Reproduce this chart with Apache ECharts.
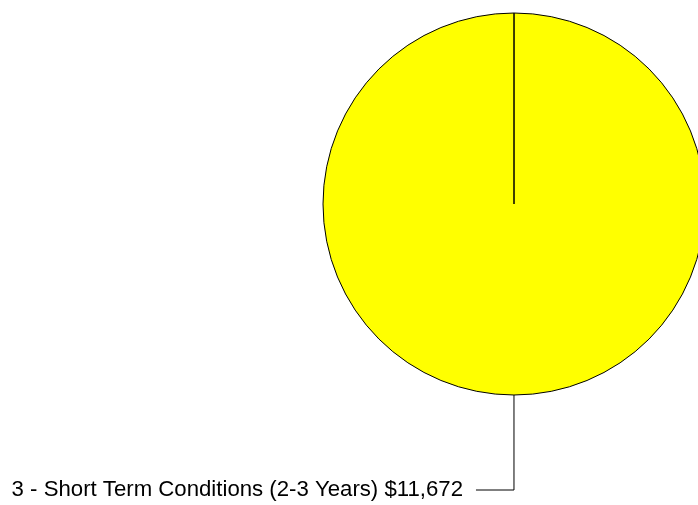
<!DOCTYPE html>
<html>
<head>
<meta charset="utf-8">
<script src="https://cdn.jsdelivr.net/npm/echarts@6/dist/echarts.min.js"></script>
<style>
  html, body { margin: 0; padding: 0; background: #fff; }
  #main { width: 698px; height: 505px; }
</style>
</head>
<body>
<div id="main"></div>
<script>
  // data
  var categories = ['3 - Short Term Conditions (2-3 Years)'];
  var values = [11672];

  var chart = echarts.init(document.getElementById('main'));

  var pieData = categories.map(function (name, i) {
    return { name: name, value: values[i] };
  });

  var option = {
    animation: false,
    series: [{
      type: 'pie',
      center: [514, 204],
      radius: 191,
      // just under a full turn so the start edge is drawn and the label falls left
      startAngle: 89.99,
      endAngle: -270,
      clockwise: true,
      avoidLabelOverlap: false,
      itemStyle: {
        color: '#ffff00',
        borderColor: '#000',
        borderWidth: 1
      },
      emphasis: { disabled: true },
      label: {
        show: true,
        position: 'outside',
        color: '#000',
        fontFamily: 'Liberation Sans, Arial, sans-serif',
        fontSize: 22.2,
        padding: [4, 0, 0, 0],
        distanceToLabelLine: 13,
        formatter: function (p) {
          return p.name + ' $' + p.value.toLocaleString('en-US');
        }
      },
      labelLine: {
        show: true,
        length: 95,
        length2: 38,
        lineStyle: { color: '#000', width: 1 }
      },
      data: pieData
    }]
  };

  chart.setOption(option);
</script>
</body>
</html>
